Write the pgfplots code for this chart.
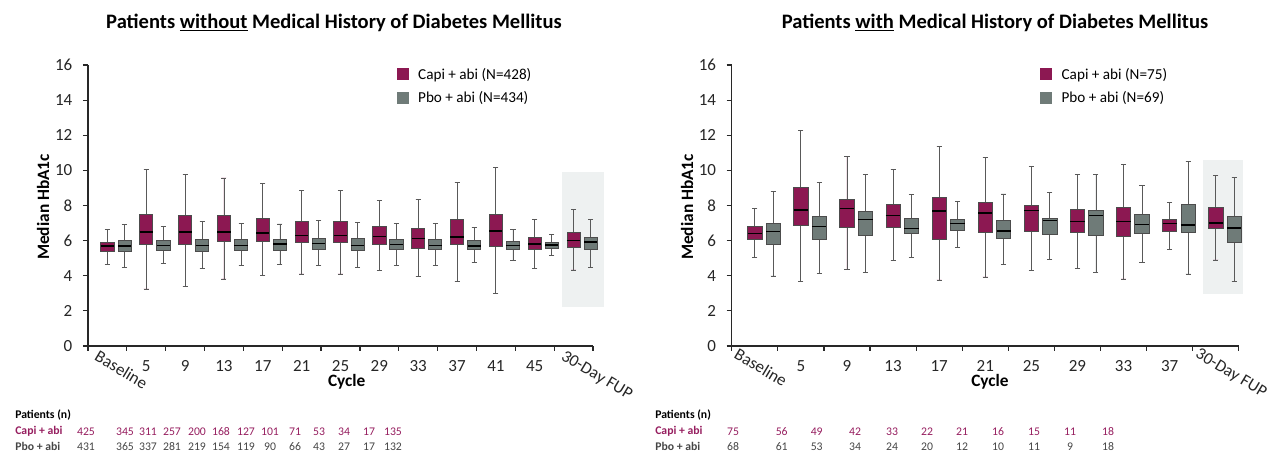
\documentclass[border=0pt]{standalone}
\usepackage{fontspec}
\setmainfont{Carlito}
\usepackage{pgfplots}
\pgfplotsset{compat=1.18}
\usepgfplotslibrary{statistics}
\definecolor{capi}{RGB}{140,24,82}
\definecolor{capitxt}{RGB}{150,30,95}
\definecolor{pbo}{RGB}{111,123,120}
\definecolor{shade}{RGB}{238,241,241}
\definecolor{axc}{RGB}{40,40,40}
\definecolor{pbotxt}{RGB}{70,70,70}

% pos, lower whisker, lower quartile, median, upper quartile, upper whisker, colour
\newcommand{\bx}[7]{\addplot[forget plot, fill=#7, draw=black!70, line width=0.6pt,
  boxplot prepared={draw position=#1, lower whisker=#2, lower quartile=#3,
  median=#4, upper quartile=#5, upper whisker=#6}] coordinates {};}

\pgfplotsset{hba/.style={
  scale only axis, height=210.75pt, ymin=0, ymax=16, ytick={0,2,...,16},
  axis lines*=left, axis line style={axc, line width=0.9pt},
  tick style={axc, line width=0.9pt},
  tick align=outside, major tick length=3.75pt, minor tick length=3.75pt,
  major x tick style={draw=none},
  clip=false,
  ticklabel style={font=\fontsize{12.75}{14}\selectfont, text=black!85},
  /pgf/number format/assume math mode=true,
  yticklabel style={xshift=-4.5pt},
  xticklabel style={yshift=-3.5pt},
  boxplot/draw direction=y,
  boxplot/every whisker/.style={draw=black!65, line width=0.6pt},
  boxplot/every median/.style={draw=black, line width=1.1pt},
  legend style={draw=none, fill=none, inner sep=0pt, anchor=north west,
    font=\fontsize{11.4}{13}\selectfont, row sep=3.5pt,
    /tikz/every odd column/.append style={column sep=5pt}},
  legend cell align=left,
  legend image code/.code={\fill[##1] (0pt,-4.5pt) rectangle (9pt,4.5pt);},
}}

\begin{document}
\begin{tikzpicture}
\useasboundingbox (0,0) rectangle (954pt,339.75pt);

% ---------------- left panel ----------------
\begin{axis}[hba, at={(66pt,80.25pt)}, anchor=south west, width=378.75pt,
  xmin=-0.5, xmax=12.5,
  xtick={1,...,11}, xticklabels={5,9,13,17,21,25,29,33,37,41,45},
  minor xtick={-0.5,0.5,...,12.5},
  extra x ticks={0,12}, extra x tick labels={Baseline,30-Day FUP},
  extra x tick style={tick label style={rotate=-31, anchor=north west, xshift=-9pt, yshift=5pt}},
  boxplot/box extend=0.34, boxplot/whisker extend=0.13,
  legend style={at={(0.611,1)}}]
\addlegendimage{fill=capi, draw=none}
\addlegendentry{Capi + abi (N=428)}
\addlegendimage{fill=pbo, draw=none}
\addlegendentry{Pbo + abi (N=434)}
\addplot[draw=none, fill=shade, forget plot] coordinates {(11.7,2.24) (12.78,2.24) (12.78,9.91) (11.7,9.91)};
\bx{0}{4.65}{5.37}{5.69}{5.90}{6.64}{capi}
\bx{1}{3.25}{5.79}{6.49}{7.50}{10.06}{capi}
\bx{2}{3.40}{5.79}{6.49}{7.42}{9.79}{capi}
\bx{3}{3.82}{5.96}{6.49}{7.42}{9.57}{capi}
\bx{4}{4.04}{5.96}{6.43}{7.27}{9.26}{capi}
\bx{5}{4.10}{5.88}{6.30}{7.08}{8.88}{capi}
\bx{6}{4.10}{5.88}{6.30}{7.08}{8.88}{capi}
\bx{7}{4.29}{5.77}{6.23}{6.80}{8.30}{capi}
\bx{8}{3.95}{5.58}{6.11}{6.70}{8.33}{capi}
\bx{9}{3.70}{5.77}{6.21}{7.19}{9.30}{capi}
\bx{10}{3.00}{5.68}{6.55}{7.50}{10.18}{capi}
\bx{11}{4.44}{5.49}{5.81}{6.19}{7.23}{capi}
\bx{12}{4.33}{5.62}{6.00}{6.49}{7.78}{capi}
\bx{0.44}{4.48}{5.37}{5.69}{6.00}{6.91}{pbo}
\bx{1.44}{4.71}{5.47}{5.71}{6.04}{6.83}{pbo}
\bx{2.44}{4.42}{5.37}{5.71}{6.09}{7.08}{pbo}
\bx{3.44}{4.59}{5.47}{5.71}{6.09}{6.99}{pbo}
\bx{4.44}{4.63}{5.47}{5.81}{6.07}{6.95}{pbo}
\bx{5.44}{4.57}{5.52}{5.83}{6.15}{7.14}{pbo}
\bx{6.44}{4.48}{5.43}{5.71}{6.11}{7.06}{pbo}
\bx{7.44}{4.61}{5.49}{5.77}{6.07}{6.99}{pbo}
\bx{8.44}{4.61}{5.49}{5.71}{6.09}{6.99}{pbo}
\bx{9.44}{4.76}{5.49}{5.69}{6.00}{6.76}{pbo}
\bx{10.44}{4.86}{5.52}{5.71}{5.98}{6.66}{pbo}
\bx{11.44}{5.14}{5.58}{5.75}{5.90}{6.36}{pbo}
\bx{12.44}{4.46}{5.49}{5.92}{6.19}{7.21}{pbo}
\end{axis}

% ---------------- right panel ----------------
\begin{axis}[hba, at={(548.8pt,80.25pt)}, anchor=south west, width=380.3pt,
  xmin=-0.5, xmax=10.5,
  xtick={1,...,9}, xticklabels={5,9,13,17,21,25,29,33,37},
  minor xtick={-0.5,0.5,...,10.5},
  extra x ticks={0,10}, extra x tick labels={Baseline,30-Day FUP},
  extra x tick style={tick label style={rotate=-31, anchor=north west, xshift=-15pt, yshift=3.5pt}},
  boxplot/box extend=0.31, boxplot/whisker extend=0.11,
  legend style={at={(0.608,1)}}]
\addlegendimage{fill=capi, draw=none}
\addlegendentry{Capi + abi (N=75)}
\addlegendimage{fill=pbo, draw=none}
\addlegendentry{Pbo + abi (N=69)}
\addplot[draw=none, fill=shade, forget plot] coordinates {(9.73,2.94) (10.60,2.94) (10.60,10.59) (9.73,10.59)};
\bx{0}{5.05}{6.09}{6.42}{6.80}{7.84}{capi}
\bx{1}{3.68}{6.87}{7.74}{9.05}{12.26}{capi}
\bx{2}{4.38}{6.78}{7.82}{8.37}{10.78}{capi}
\bx{3}{4.86}{6.78}{7.44}{8.07}{10.06}{capi}
\bx{4}{3.76}{6.05}{7.69}{8.47}{11.35}{capi}
\bx{5}{3.93}{6.47}{7.56}{8.18}{10.74}{capi}
\bx{6}{4.31}{6.51}{7.71}{7.99}{10.21}{capi}
\bx{7}{4.44}{6.45}{7.08}{7.78}{9.79}{capi}
\bx{8}{3.82}{6.25}{7.10}{7.90}{10.35}{capi}
\bx{9}{5.52}{6.51}{6.97}{7.19}{8.18}{capi}
\bx{10}{4.90}{6.68}{7.00}{7.90}{9.70}{capi}
\bx{0.40}{3.99}{5.77}{6.51}{7.00}{8.79}{pbo}
\bx{1.40}{4.14}{6.07}{6.80}{7.40}{9.32}{pbo}
\bx{2.40}{4.21}{6.28}{7.19}{7.69}{9.78}{pbo}
\bx{3.40}{5.05}{6.40}{6.70}{7.27}{8.64}{pbo}
\bx{4.40}{5.62}{6.59}{6.97}{7.20}{8.22}{pbo}
\bx{5.40}{4.65}{6.13}{6.55}{7.14}{8.66}{pbo}
\bx{6.40}{4.91}{6.36}{7.14}{7.29}{8.73}{pbo}
\bx{7.40}{4.19}{6.28}{7.42}{7.71}{9.78}{pbo}
\bx{8.40}{4.76}{6.40}{6.91}{7.50}{9.15}{pbo}
\bx{9.40}{4.10}{6.47}{6.89}{8.09}{10.50}{pbo}
\bx{10.40}{3.70}{5.90}{6.72}{7.38}{9.58}{pbo}
\end{axis}

% ---------------- texts (pixel coordinates, y downwards) ----------------
\begin{scope}[x=0.75pt, y=-0.75pt, shift={(0,339.75pt)}]
\node[anchor=base, font=\bfseries\fontsize{15.4}{18}\selectfont] at (334,28.3)
  {Patients \underline{without} Medical History of Diabetes Mellitus};
\node[anchor=base, font=\bfseries\fontsize{15.4}{18}\selectfont] at (995,28.3)
  {Patients \underline{with} Medical History of Diabetes Mellitus};
\node[rotate=90, font=\bfseries\fontsize{13}{15}\selectfont] at (43,207) {Median HbA1c};
\node[rotate=90, font=\bfseries\fontsize{13}{15}\selectfont] at (687,207) {Median HbA1c};
\node[font=\bfseries\fontsize{13}{15}\selectfont] at (346.7,381.7) {Cycle};
\node[font=\bfseries\fontsize{13}{15}\selectfont] at (990,381.7) {Cycle};

\tikzset{tl/.style={anchor=west, font=\bfseries\fontsize{8.8}{10}\selectfont, inner sep=0pt},
         tn/.style={font=\fontsize{8.8}{10}\selectfont, inner sep=0pt}}
% left table
\node[tl] at (15,415) {Patients (n)};
\node[tl, text=capitxt] at (15,431.7) {Capi + abi};
\node[tl, text=pbotxt] at (15,446.7) {Pbo + abi};
\foreach \x/\a/\b in {86/425/431,125/345/365,148/311/337,172/257/281,197/200/219,221/168/154,
   246/127/119,270/101/90,295/71/66,319/53/43,344/34/27,369/17/17,393/135/132}{
  \node[tn, text=capitxt] at (\x,431.7) {\a};
  \node[tn, text=pbotxt] at (\x,446.7) {\b};
}
% right table
\node[tl] at (655,415) {Patients (n)};
\node[tl, text=capitxt] at (655,431.7) {Capi + abi};
\node[tl, text=pbotxt] at (655,446.7) {Pbo + abi};
\foreach \x/\a/\b in {733/75/68,781.7/56/61,816.7/49/53,855/42/34,892/33/24,927/22/20,
   962/21/12,998/16/10,1034/15/11,1070/11/9,1108/18/18}{
  \node[tn, text=capitxt] at (\x,431.7) {\a};
  \node[tn, text=pbotxt] at (\x,446.7) {\b};
}
\end{scope}
\end{tikzpicture}
\end{document}
